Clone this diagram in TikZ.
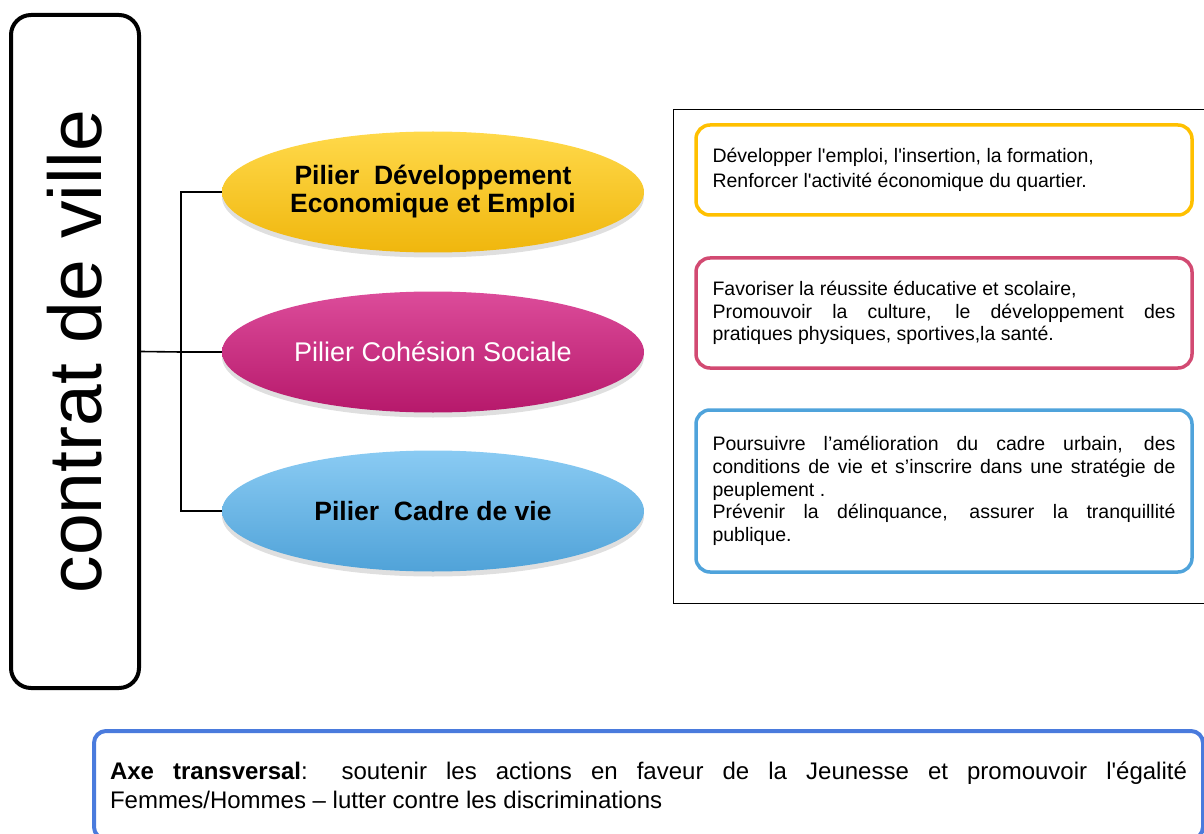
\documentclass[tikz,border=0pt]{standalone}
\usepackage{fontspec}
\setmainfont{Liberation Sans}
\usetikzlibrary{shapes.geometric,shadows}
\definecolor{jaune}{HTML}{FFC20E}
\definecolor{jauneclair}{HTML}{FFD94A}
\definecolor{rose}{HTML}{C21A72}
\definecolor{roseclair}{HTML}{DC4C9A}
\definecolor{bleu}{HTML}{55ADE6}
\definecolor{bleuclair}{HTML}{8ACBF3}
\definecolor{bordjaune}{HTML}{FFC000}
\definecolor{bordrose}{HTML}{D24A72}
\definecolor{bordbleu}{HTML}{4FA3DB}
\definecolor{bordaxe}{HTML}{4A7BDD}
\tolerance=10000 \hbadness=10000
\tikzset{
  pilier/.style={ellipse, minimum width=422pt, minimum height=121pt, inner sep=0pt,
    align=center, font=\fontsize{26.5}{28}\selectfont,
    drop shadow={shadow xshift=0pt,shadow yshift=-5pt,opacity=.25}},
  boite/.style={draw, rounded corners=14pt, line width=3.5pt, minimum width=496pt,
    text width=463pt, align=justify, font=\fontsize{19.5}{22.7}\selectfont},
  fil/.style={line width=1.6pt}
}
\begin{document}
\begin{tikzpicture}[x=1pt,y=-1pt]
\useasboundingbox (0,0) rectangle (1204,834);
% cadre gauche
\node[draw, line width=4pt, rounded corners=20pt, minimum width=128pt, minimum height=673pt, inner sep=0pt] (contrat) at (75,351.5) {\rotatebox{90}{\fontsize{75}{80}\selectfont contrat de ville}};
% piliers
\node[pilier, top color=jauneclair, middle color=jaune, bottom color=jaune!94!black] (eco) at (433,192) {\textbf{Pilier~ Développement}\\\textbf{Economique et Emploi}};
\node[pilier, top color=roseclair, middle color=rose, bottom color=rose!94!black, text=white, font=\fontsize{27}{28}\selectfont] (coh) at (433,352) {Pilier Cohésion Sociale};
\node[pilier, top color=bleuclair, middle color=bleu, bottom color=bleu!94!black] (cad) at (433,511) {\textbf{Pilier~ Cadre de vie}};
% liaisons
\coordinate (bus) at (181,352);
\draw[fil] (contrat.east) -- (bus);
\foreach \p in {eco,coh,cad} \draw[fil] (bus) |- (\p.west);
% objectifs
\draw[line width=1pt] (673,110) rectangle (1210,603);
\node[boite, draw=bordjaune, minimum height=90pt, font=\fontsize{19.5}{24.5}\selectfont] (obj1) at (944,170)
  {Développer l\textquotesingle emploi, l\textquotesingle insertion, la formation,\\
   Renforcer l\textquotesingle activité économique du quartier.};
\node[boite, draw=bordrose, minimum height=110pt] (obj2) at (944,313)
  {Favoriser la réussite éducative et scolaire,\\
   Promouvoir la culture, le développement des\linebreak
   pratiques physiques, sportives,la santé.};
\node[boite, draw=bordbleu, minimum height=162pt] (obj3) at (944,491)
  {Poursuivre l’amélioration du cadre urbain, des\linebreak
   conditions de vie et s’inscrire dans une stratégie de\linebreak
   peuplement .\\
   Prévenir la délinquance, assurer la tranquillité\linebreak
   publique.};
% axe transversal
\node[boite, draw=bordaxe, line width=4pt, rounded corners=12pt, anchor=north west, text width=1077pt,
  inner xsep=16pt, minimum width=0pt, minimum height=108pt, font=\fontsize{24}{29}\selectfont] (axe) at (92,729)
  {\textbf{Axe transversal}: soutenir les actions en faveur de la Jeunesse et promouvoir l\textquotesingle égalité\linebreak
   Femmes/Hommes – lutter contre les discriminations};
\end{tikzpicture}
\end{document}
